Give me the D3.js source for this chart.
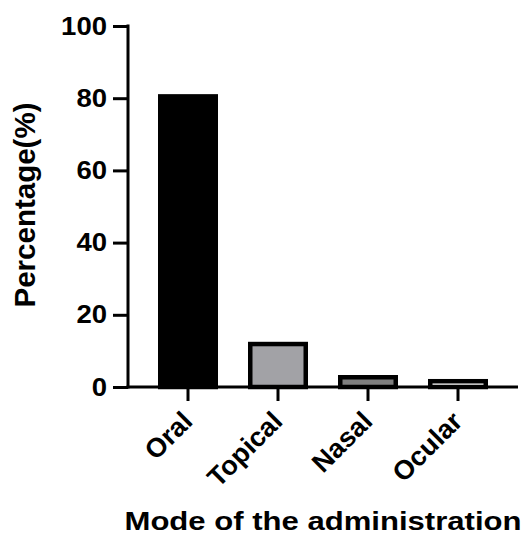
<!DOCTYPE html>
<html lang="en">
<head>
<meta charset="utf-8">
<title>Mode of the administration</title>
<script src="https://cdn.jsdelivr.net/npm/d3@7"></script>
<style>
  body { margin: 0; background: #fff; }
  text { font-family: "Liberation Sans", Arial, sans-serif; font-weight: bold; }
</style>
</head>
<body>
<script>
var categories = ["Oral", "Topical", "Nasal", "Ocular"];
var values = [80.5, 11.9, 2.7, 1.6];
var fills = ["#000000", "#a2a2a6", "#7f7f7f", "#ffffff"];
var yTicks = [0, 20, 40, 60, 80, 100];

var w = 527, h = 538;
var svg = d3.select("body").append("svg")
  .attr("width", w)
  .attr("height", h);

var x = d3.scaleBand()
  .domain(categories)
  .range([143, 503])
  .paddingInner(1 / 3)
  .paddingOuter(1 / 6);

var y = d3.scaleLinear()
  .domain([0, 100])
  .range([387, 26]);

// bars
svg.selectAll("rect.bar")
  .data(values)
  .enter()
  .append("rect")
  .attr("class", "bar")
  .attr("x", function(d, i) { return x(categories[i]) + 2.25; })
  .attr("y", function(d) { return y(d); })
  .attr("width", x.bandwidth() - 4.5)
  .attr("height", function(d) { return y(0) - y(d); })
  .attr("fill", function(d, i) { return fills[i]; })
  .attr("stroke", "#000")
  .attr("stroke-width", 4.5);

// y axis
var yAxis = svg.append("g")
  .attr("transform", "translate(128,0)")
  .call(d3.axisLeft(y).tickValues(yTicks).tickSize(15).tickPadding(6));
yAxis.select(".domain").attr("d", "M0," + (y(100) - 1.5) + "V" + (y(0) + 1.5));
yAxis.selectAll("line, .domain").attr("stroke", "#000").attr("stroke-width", 3);
yAxis.selectAll("text")
  .attr("font-size", "25px")
  .attr("fill", "#000")
  .attr("font-family", "\"Liberation Sans\", Arial, sans-serif")
  .attr("font-weight", "bold")
  .attr("textLength", function(d) { return String(d).length * 15.3; })
  .attr("lengthAdjust", "spacingAndGlyphs");

// x axis
var xAxis = svg.append("g")
  .attr("transform", "translate(0," + y(0) + ")")
  .call(d3.axisBottom(x).tickSize(14).tickPadding(4));
xAxis.select(".domain").attr("d", "M126.5,0H518");
xAxis.selectAll("line, .domain").attr("stroke", "#000").attr("stroke-width", 3);
xAxis.selectAll("text")
  .attr("font-size", "27px")
  .attr("fill", "#000")
  .attr("font-family", "\"Liberation Sans\", Arial, sans-serif")
  .attr("font-weight", "bold")
  .attr("text-anchor", "end")
  .attr("y", 0)
  .attr("dy", 0)
  .attr("transform", "translate(6,36) rotate(-45)");

// axis titles
svg.append("text")
  .attr("x", 323)
  .attr("y", 530)
  .attr("text-anchor", "middle")
  .attr("font-size", "26px")
  .attr("textLength", 397)
  .attr("lengthAdjust", "spacingAndGlyphs")
  .text("Mode of the administration");

svg.append("text")
  .attr("transform", "translate(35,205) rotate(-90)")
  .attr("text-anchor", "middle")
  .attr("font-size", "29px")
  .attr("textLength", 205)
  .attr("lengthAdjust", "spacingAndGlyphs")
  .text("Percentage(%)");
</script>
</body>
</html>
